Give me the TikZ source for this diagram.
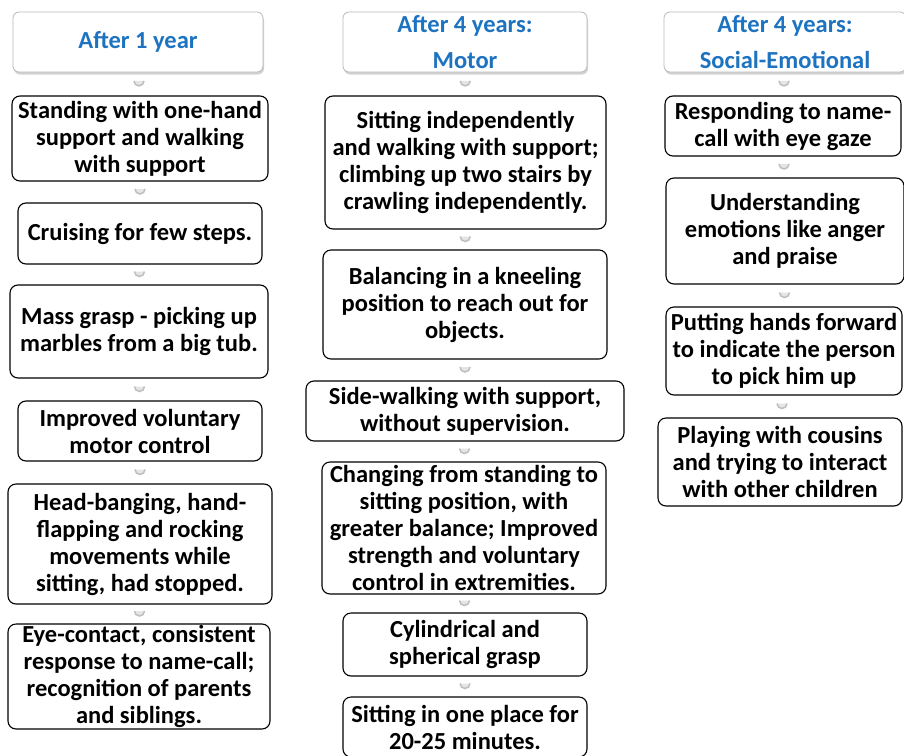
\documentclass[tikz,border=0pt]{standalone}
\usepackage{fontspec}
\setmainfont{Carlito}
\usetikzlibrary{shadows}
\definecolor{hblue}{RGB}{30,115,192}
\tikzset{
  box/.style={draw=black, line width=1.1pt, rounded corners=8pt, fill=white,
    align=center, inner sep=0pt, font=\fontsize{24.5}{27}\selectfont\bfseries},
  head/.style={draw=gray!55, line width=0.8pt, rounded corners=6pt, fill=white,
    align=center, inner sep=0pt, text=hblue,
    drop shadow={opacity=0.35, shadow xshift=1pt, shadow yshift=-2.5pt},
    font=\fontsize{24.5}{36}\selectfont\bfseries},
  chev/.style={minimum size=14pt, inner sep=0pt,
    path picture={\draw[gray!50, line width=1.5pt, fill=gray!20]
      ([shift={(-5pt,3pt)}]path picture bounding box.center)
      arc[start angle=180, end angle=360, radius=5pt];}}
}
\begin{document}
\begin{tikzpicture}[x=1pt,y=-1pt]
\useasboundingbox[fill=white] (0,0) rectangle (904,755);
% column 1
\node[head, minimum width=250, minimum height=60] (h1) at (138,42) {After 1 year};
\node[box, minimum width=256, minimum height=85] (a1) at (140,138.5) {Standing with one-hand\\support and walking\\with support};
\node[box, minimum width=244, minimum height=61] (a2) at (140,233.5) {Cruising for few steps.};
\node[box, minimum width=258, minimum height=93] (a3) at (139,331.5) {Mass grasp - picking up\\marbles from a big tub.};
\node[box, minimum width=244, minimum height=60] (a4) at (140,431) {Improved voluntary\\motor control};
\node[box, minimum width=264, minimum height=120] (a5) at (140,544) {Head-banging, hand-\\flapping and rocking\\movements while\\sitting, had stopped.};
\node[box, minimum width=262, minimum height=105] (a6) at (139,676.5) {Eye-contact, consistent\\response to name-call;\\recognition of parents\\and siblings.};
% column 2
\node[head, minimum width=244, minimum height=60] (h2) at (465,42) {After 4 years:\\Motor};
\node[box, minimum width=281, minimum height=133] (b1) at (465.5,162.5) {Sitting independently\\and walking with support;\\climbing up two stairs by\\crawling independently.};
\node[box, minimum width=284, minimum height=109] (b2) at (465,304.5) {Balancing in a kneeling\\position to reach out for\\objects.};
\node[box, minimum width=318, minimum height=60] (b3) at (465,411) {Side-walking with support,\\without supervision.};
\node[box, minimum width=284, minimum height=132] (b4) at (464,528) {Changing from standing to\\sitting position, with\\greater balance; Improved\\strength and voluntary\\control in extremities.};
\node[box, minimum width=244, minimum height=63] (b5) at (465,644.5) {Cylindrical and\\spherical grasp};
\node[box, minimum width=244, minimum height=60] (b6) at (465,727) {Sitting in one place for\\20-25 minutes.};
% column 3
\node[head, minimum width=242, minimum height=60] (h3) at (785,42) {After 4 years:\\Social-Emotional};
\node[box, minimum width=236, minimum height=60] (c1) at (783,126) {Responding to name-\\call with eye gaze};
\node[box, minimum width=238, minimum height=106] (c2) at (785,231) {Understanding\\emotions like anger\\and praise};
\node[box, minimum width=236, minimum height=88] (c3) at (784,351) {Putting hands forward\\to indicate the person\\to pick him up};
\node[box, minimum width=244, minimum height=88] (c4) at (780,462) {Playing with cousins\\and trying to interact\\with other children};
% connectors
\foreach \u/\v in {h1/a1,a1/a2,a2/a3,a3/a4,a4/a5,a5/a6,
                   h2/b1,b1/b2,b2/b3,b3/b4,b4/b5,b5/b6,
                   h3/c1,c1/c2,c2/c3,c3/c4}
  \path (\u.south) -- (\v.north) node[midway, chev] {};
\end{tikzpicture}
\end{document}
